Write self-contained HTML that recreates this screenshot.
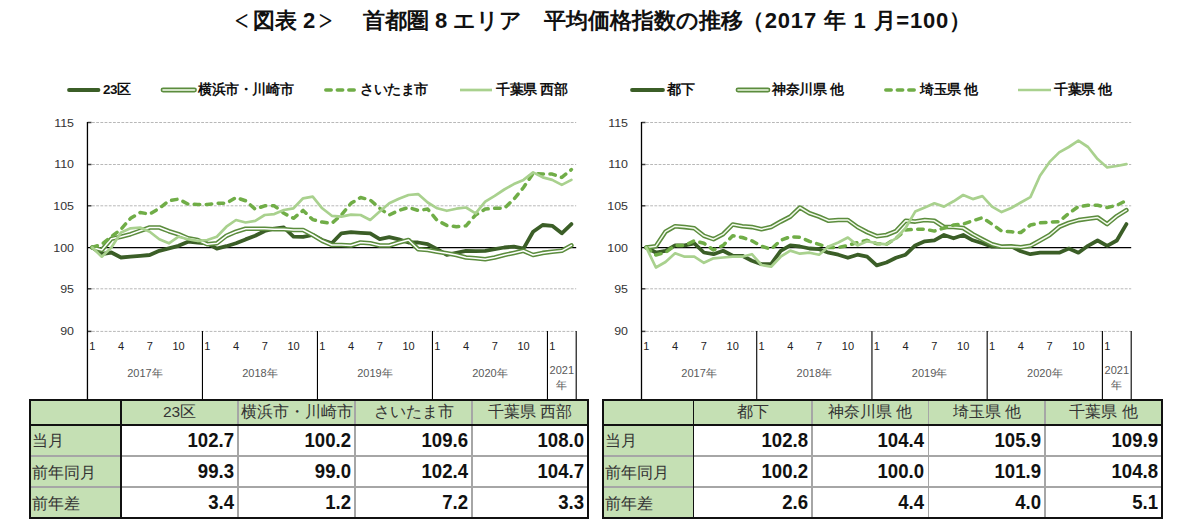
<!DOCTYPE html>
<html><head><meta charset="utf-8"><style>
html,body{margin:0;padding:0;background:#fff;width:1194px;height:523px;overflow:hidden;position:relative;font-family:"Liberation Sans",sans-serif}
.t{position:absolute;top:6px;font-size:22px;font-weight:bold;color:#111;white-space:nowrap}
.yl{position:absolute;width:40px;text-align:right;font-size:11px;line-height:14px;color:#333;transform:scaleX(1.13);transform-origin:100% 50%}
.ml{position:absolute;width:30px;text-align:center;font-size:11px;line-height:14px;color:#222}
.yr{position:absolute;width:80px;text-align:center;font-size:11px;line-height:14px;color:#595959}
.yr2{position:absolute;width:40px;text-align:center;font-size:11px;line-height:15px;color:#595959}
.lg{position:absolute;top:82px;letter-spacing:-0.4px;font-size:13.5px;line-height:16px;font-weight:bold;color:#111;white-space:nowrap}
svg{position:absolute;left:0;top:0}
.bx{position:absolute}
.br{display:inline-block;font-weight:normal;transform:scale(1.05,1.45);transform-origin:50% 60%}
.th{position:absolute;width:116px;text-align:center;font-size:15.5px;line-height:18px;color:#333;white-space:nowrap}
.tl{position:absolute;font-size:16px;line-height:18px;color:#333;white-space:nowrap}
.tn{position:absolute;width:100px;text-align:right;font-size:20px;line-height:23px;font-weight:bold;color:#111;transform:scaleX(0.93);transform-origin:100% 50%}
</style></head><body>
<div class="t" style="left:231px;letter-spacing:0px"><span class="br">＜</span>図表 2<span class="br">＞</span></div><div class="t" style="left:363px;letter-spacing:0px">首都圏 8 エリア</div><div class="t" style="left:544px">平均価格指数の推移</div><div class="t" style="left:742px;letter-spacing:0.8px">（2017 年 1 月=100）</div>
<svg width="1194" height="523" viewBox="0 0 1194 523">
<line x1="92.0" y1="122.5" x2="576.2" y2="122.5" stroke="#b8b8b8" stroke-width="1" stroke-dasharray="2.8 1.4"/>
<line x1="92.0" y1="164.5" x2="576.2" y2="164.5" stroke="#b8b8b8" stroke-width="1" stroke-dasharray="2.8 1.4"/>
<line x1="92.0" y1="205.8" x2="576.2" y2="205.8" stroke="#b8b8b8" stroke-width="1" stroke-dasharray="2.8 1.4"/>
<line x1="92.0" y1="288.8" x2="576.2" y2="288.8" stroke="#b8b8b8" stroke-width="1" stroke-dasharray="2.8 1.4"/>
<line x1="92.0" y1="331.4" x2="576.2" y2="331.4" stroke="#b8b8b8" stroke-width="1" stroke-dasharray="2.8 1.4"/>
<line x1="87.5" y1="122.5" x2="91.5" y2="122.5" stroke="#404040" stroke-width="1.5"/>
<line x1="87.5" y1="164.5" x2="91.5" y2="164.5" stroke="#404040" stroke-width="1.5"/>
<line x1="87.5" y1="205.8" x2="91.5" y2="205.8" stroke="#404040" stroke-width="1.5"/>
<line x1="87.5" y1="288.8" x2="91.5" y2="288.8" stroke="#404040" stroke-width="1.5"/>
<line x1="87.5" y1="331.4" x2="91.5" y2="331.4" stroke="#404040" stroke-width="1.5"/>
<line x1="87.5" y1="247.5" x2="576.2" y2="247.5" stroke="#000" stroke-width="1.25"/>
<line x1="87.45" y1="122" x2="87.45" y2="399" stroke="#000" stroke-width="1.3"/>
<line x1="202.45" y1="331" x2="202.45" y2="399" stroke="#000" stroke-width="1.1"/>
<line x1="317.45" y1="331" x2="317.45" y2="399" stroke="#000" stroke-width="1.1"/>
<line x1="432.45" y1="331" x2="432.45" y2="399" stroke="#000" stroke-width="1.1"/>
<line x1="547.45" y1="331" x2="547.45" y2="399" stroke="#000" stroke-width="1.1"/>
<line x1="576.20" y1="331" x2="576.20" y2="399" stroke="#000" stroke-width="1.1"/>
<polyline points="92.2,247.5 101.8,254.0 111.4,252.5 121.0,257.5 130.6,256.7 140.2,255.8 149.7,255.0 159.3,250.8 168.9,248.3 178.5,245.8 188.1,241.7 197.7,242.5 207.2,243.3 216.8,248.6 226.4,246.2 236.0,243.3 245.6,239.4 255.2,235.8 264.7,231.0 274.3,228.7 283.9,227.5 293.5,236.7 303.1,236.8 312.7,235.0 322.2,240.0 331.8,243.3 341.4,233.3 351.0,232.2 360.6,232.8 370.2,233.3 379.7,239.2 389.3,237.1 398.9,239.4 408.5,242.5 418.1,242.5 427.7,244.2 437.2,249.2 446.8,254.8 456.4,252.9 466.0,250.8 475.6,251.2 485.2,250.8 494.7,249.2 504.3,247.5 513.9,246.7 523.5,248.6 533.1,231.7 542.7,225.0 552.2,225.8 561.8,233.3 571.4,224.1" fill="none" stroke="#3b5e27" stroke-width="3.8" stroke-linejoin="round" stroke-linecap="round"/>
<polyline points="92.2,247.5 101.8,250.0 111.4,238.7 121.0,236.7 130.6,234.2 140.2,230.8 149.7,227.5 159.3,227.5 168.9,231.2 178.5,234.2 188.1,238.3 197.7,240.0 207.2,244.2 216.8,243.3 226.4,235.8 236.0,231.7 245.6,228.7 255.2,228.7 264.7,228.7 274.3,229.2 283.9,229.2 293.5,230.0 303.1,230.0 312.7,235.0 322.2,240.8 331.8,245.0 341.4,245.0 351.0,245.5 360.6,242.5 370.2,243.3 379.7,245.5 389.3,245.5 398.9,242.5 408.5,240.0 418.1,249.2 427.7,250.0 437.2,251.7 446.8,253.3 456.4,255.0 466.0,257.5 475.6,258.3 485.2,259.2 494.7,257.5 504.3,255.0 513.9,252.9 523.5,250.8 533.1,255.0 542.7,252.9 552.2,251.7 561.8,250.8 571.4,245.4" fill="none" stroke="#5b8c3d" stroke-width="4.6" stroke-linejoin="round" stroke-linecap="round"/>
<polyline points="92.2,247.5 101.8,250.0 111.4,238.7 121.0,236.7 130.6,234.2 140.2,230.8 149.7,227.5 159.3,227.5 168.9,231.2 178.5,234.2 188.1,238.3 197.7,240.0 207.2,244.2 216.8,243.3 226.4,235.8 236.0,231.7 245.6,228.7 255.2,228.7 264.7,228.7 274.3,229.2 283.9,229.2 293.5,230.0 303.1,230.0 312.7,235.0 322.2,240.8 331.8,245.0 341.4,245.0 351.0,245.5 360.6,242.5 370.2,243.3 379.7,245.5 389.3,245.5 398.9,242.5 408.5,240.0 418.1,249.2 427.7,250.0 437.2,251.7 446.8,253.3 456.4,255.0 466.0,257.5 475.6,258.3 485.2,259.2 494.7,257.5 504.3,255.0 513.9,252.9 523.5,250.8 533.1,255.0 542.7,252.9 552.2,251.7 561.8,250.8 571.4,245.4" fill="none" stroke="#ffffff" stroke-width="1.5" stroke-linejoin="round" stroke-linecap="round"/>
<polyline points="92.2,247.5 101.8,244.2 111.4,236.7 121.0,229.2 130.6,218.3 140.2,212.5 149.7,214.1 159.3,208.3 168.9,200.8 178.5,199.1 188.1,204.1 197.7,204.5 207.2,204.5 216.8,203.3 226.4,203.3 236.0,197.5 245.6,200.8 255.2,209.1 264.7,205.8 274.3,205.8 283.9,213.3 293.5,218.3 303.1,210.4 312.7,219.6 322.2,222.1 331.8,223.3 341.4,215.0 351.0,203.3 360.6,197.5 370.2,200.0 379.7,208.3 389.3,215.0 398.9,210.4 408.5,207.5 418.1,210.4 427.7,209.1 437.2,220.4 446.8,225.4 456.4,226.7 466.0,225.8 475.6,215.0 485.2,209.1 494.7,208.3 504.3,208.3 513.9,199.1 523.5,187.5 533.1,173.3 542.7,174.1 552.2,174.1 561.8,177.4 571.4,169.5" fill="none" stroke="#70ad47" stroke-width="3.5" stroke-linejoin="round" stroke-linecap="round" stroke-dasharray="5.5 6.5"/>
<polyline points="92.2,247.5 101.8,256.7 111.4,247.5 121.0,232.5 130.6,228.3 140.2,227.5 149.7,231.7 159.3,239.2 168.9,243.3 178.5,236.7 188.1,239.2 197.7,240.8 207.2,240.0 216.8,236.7 226.4,226.7 236.0,220.0 245.6,222.5 255.2,220.8 264.7,215.0 274.3,214.1 283.9,210.0 293.5,208.3 303.1,198.3 312.7,196.6 322.2,208.3 331.8,215.8 341.4,216.6 351.0,214.6 360.6,215.0 370.2,220.0 379.7,211.6 389.3,203.3 398.9,198.7 408.5,195.0 418.1,194.1 427.7,202.5 437.2,208.3 446.8,210.8 456.4,208.7 466.0,207.5 475.6,213.3 485.2,201.6 494.7,195.8 504.3,189.5 513.9,184.1 523.5,179.9 533.1,172.4 542.7,177.4 552.2,179.9 561.8,184.9 571.4,179.9" fill="none" stroke="#a9d18e" stroke-width="2.7" stroke-linejoin="round" stroke-linecap="round"/>
<line x1="646.0" y1="122.5" x2="1131.2" y2="122.5" stroke="#b8b8b8" stroke-width="1" stroke-dasharray="2.8 1.4"/>
<line x1="646.0" y1="164.5" x2="1131.2" y2="164.5" stroke="#b8b8b8" stroke-width="1" stroke-dasharray="2.8 1.4"/>
<line x1="646.0" y1="205.8" x2="1131.2" y2="205.8" stroke="#b8b8b8" stroke-width="1" stroke-dasharray="2.8 1.4"/>
<line x1="646.0" y1="288.8" x2="1131.2" y2="288.8" stroke="#b8b8b8" stroke-width="1" stroke-dasharray="2.8 1.4"/>
<line x1="646.0" y1="331.4" x2="1131.2" y2="331.4" stroke="#b8b8b8" stroke-width="1" stroke-dasharray="2.8 1.4"/>
<line x1="641.5" y1="122.5" x2="645.5" y2="122.5" stroke="#404040" stroke-width="1.5"/>
<line x1="641.5" y1="164.5" x2="645.5" y2="164.5" stroke="#404040" stroke-width="1.5"/>
<line x1="641.5" y1="205.8" x2="645.5" y2="205.8" stroke="#404040" stroke-width="1.5"/>
<line x1="641.5" y1="288.8" x2="645.5" y2="288.8" stroke="#404040" stroke-width="1.5"/>
<line x1="641.5" y1="331.4" x2="645.5" y2="331.4" stroke="#404040" stroke-width="1.5"/>
<line x1="641.5" y1="247.5" x2="1131.2" y2="247.5" stroke="#000" stroke-width="1.25"/>
<line x1="641.50" y1="122" x2="641.50" y2="399" stroke="#000" stroke-width="1.3"/>
<line x1="756.72" y1="331" x2="756.72" y2="399" stroke="#000" stroke-width="1.1"/>
<line x1="871.95" y1="331" x2="871.95" y2="399" stroke="#000" stroke-width="1.1"/>
<line x1="987.17" y1="331" x2="987.17" y2="399" stroke="#000" stroke-width="1.1"/>
<line x1="1102.39" y1="331" x2="1102.39" y2="399" stroke="#000" stroke-width="1.1"/>
<line x1="1131.20" y1="331" x2="1131.20" y2="399" stroke="#000" stroke-width="1.1"/>
<polyline points="646.3,247.5 655.9,252.5 665.5,250.8 675.1,245.4 684.7,245.4 694.3,243.3 703.9,252.5 713.5,254.2 723.1,250.8 732.7,255.8 742.3,255.8 751.9,260.8 761.5,264.2 771.1,264.2 780.7,250.8 790.3,245.4 799.9,246.5 809.5,248.5 819.1,249.2 828.7,252.7 838.3,254.7 847.9,257.8 857.5,254.7 867.1,256.7 876.7,265.4 886.4,262.5 896.0,257.8 905.6,254.7 915.2,245.4 924.8,241.3 934.4,240.3 944.0,235.0 953.6,238.3 963.2,235.0 972.8,240.3 982.4,243.3 992.0,246.7 1001.6,246.7 1011.2,246.4 1020.8,251.3 1030.4,254.2 1040.0,252.7 1049.6,252.7 1059.2,252.7 1068.8,248.6 1078.4,252.7 1088.0,245.8 1097.6,240.5 1107.2,245.8 1116.8,240.5 1126.4,224.1" fill="none" stroke="#3b5e27" stroke-width="3.8" stroke-linejoin="round" stroke-linecap="round"/>
<polyline points="646.3,247.5 655.9,246.2 665.5,231.7 675.1,226.2 684.7,227.1 694.3,228.3 703.9,235.8 713.5,239.2 723.1,234.2 732.7,224.5 742.3,226.2 751.9,227.1 761.5,229.2 771.1,227.1 780.7,221.6 790.3,216.6 799.9,207.5 809.5,213.3 819.1,216.6 828.7,220.8 838.3,220.0 847.9,220.0 857.5,227.0 867.1,232.1 876.7,236.2 886.4,235.0 896.0,231.1 905.6,220.8 915.2,221.6 924.8,220.0 934.4,220.8 944.0,227.0 953.6,227.0 963.2,228.0 972.8,234.2 982.4,239.3 992.0,244.2 1001.6,246.7 1011.2,246.4 1020.8,247.2 1030.4,245.8 1040.0,240.5 1049.6,235.0 1059.2,226.9 1068.8,222.9 1078.4,220.1 1088.0,218.8 1097.6,217.5 1107.2,224.1 1116.8,216.1 1126.4,210.1" fill="none" stroke="#5b8c3d" stroke-width="4.6" stroke-linejoin="round" stroke-linecap="round"/>
<polyline points="646.3,247.5 655.9,246.2 665.5,231.7 675.1,226.2 684.7,227.1 694.3,228.3 703.9,235.8 713.5,239.2 723.1,234.2 732.7,224.5 742.3,226.2 751.9,227.1 761.5,229.2 771.1,227.1 780.7,221.6 790.3,216.6 799.9,207.5 809.5,213.3 819.1,216.6 828.7,220.8 838.3,220.0 847.9,220.0 857.5,227.0 867.1,232.1 876.7,236.2 886.4,235.0 896.0,231.1 905.6,220.8 915.2,221.6 924.8,220.0 934.4,220.8 944.0,227.0 953.6,227.0 963.2,228.0 972.8,234.2 982.4,239.3 992.0,244.2 1001.6,246.7 1011.2,246.4 1020.8,247.2 1030.4,245.8 1040.0,240.5 1049.6,235.0 1059.2,226.9 1068.8,222.9 1078.4,220.1 1088.0,218.8 1097.6,217.5 1107.2,224.1 1116.8,216.1 1126.4,210.1" fill="none" stroke="#f3faec" stroke-width="1.5" stroke-linejoin="round" stroke-linecap="round"/>
<polyline points="646.3,247.5 655.9,255.0 665.5,252.5 675.1,245.4 684.7,245.4 694.3,240.8 703.9,243.3 713.5,250.0 723.1,245.4 732.7,235.8 742.3,237.5 751.9,240.8 761.5,246.2 771.1,249.2 780.7,240.3 790.3,236.7 799.9,237.2 809.5,241.3 819.1,244.4 828.7,247.5 838.3,247.5 847.9,245.4 857.5,242.5 867.1,240.3 876.7,243.7 886.4,244.2 896.0,238.3 905.6,230.0 915.2,229.2 924.8,229.2 934.4,231.1 944.0,228.0 953.6,225.0 963.2,224.1 972.8,220.8 982.4,217.7 992.0,224.1 1001.6,231.0 1011.2,231.8 1020.8,232.5 1030.4,225.0 1040.0,222.9 1049.6,222.1 1059.2,221.6 1068.8,213.3 1078.4,206.6 1088.0,205.3 1097.6,205.3 1107.2,207.5 1116.8,205.3 1126.4,200.4" fill="none" stroke="#70ad47" stroke-width="3.5" stroke-linejoin="round" stroke-linecap="round" stroke-dasharray="5.5 6.5"/>
<polyline points="646.3,247.5 655.9,267.5 665.5,262.0 675.1,253.3 684.7,256.7 694.3,256.7 703.9,262.8 713.5,258.3 723.1,257.5 732.7,256.7 742.3,256.7 751.9,254.2 761.5,265.0 771.1,266.7 780.7,256.7 790.3,250.6 799.9,253.7 809.5,252.7 819.1,254.7 828.7,246.5 838.3,242.5 847.9,237.5 857.5,245.4 867.1,241.3 876.7,243.3 886.4,244.4 896.0,238.3 905.6,228.0 915.2,211.6 924.8,207.5 934.4,203.3 944.0,206.6 953.6,201.3 963.2,195.0 972.8,199.1 982.4,196.1 992.0,206.6 1001.6,212.1 1011.2,208.0 1020.8,202.5 1030.4,197.1 1040.0,175.8 1049.6,161.9 1059.2,152.4 1068.8,147.0 1078.4,140.7 1088.0,147.0 1097.6,159.1 1107.2,167.4 1116.8,166.0 1126.4,164.1" fill="none" stroke="#a9d18e" stroke-width="2.7" stroke-linejoin="round" stroke-linecap="round"/>
<line x1="69" y1="90" x2="98.5" y2="90" stroke="#3b5e27" stroke-width="3.8" stroke-linecap="round"/>
<line x1="163.0" y1="90" x2="194.5" y2="90" stroke="#5b8c3d" stroke-width="4.8" stroke-linecap="round"/>
<line x1="163.0" y1="90" x2="194.5" y2="90" stroke="#fbfff5" stroke-width="1.6" stroke-linecap="round"/>
<line x1="325.8" y1="90" x2="354.7" y2="90" stroke="#70ad47" stroke-width="3.5" stroke-linecap="round" stroke-dasharray="5.4 6.1"/>
<line x1="460" y1="90" x2="492" y2="90" stroke="#a9d18e" stroke-width="2.7"/>
<line x1="632" y1="90" x2="663" y2="90" stroke="#3b5e27" stroke-width="3.8" stroke-linecap="round"/>
<line x1="738.0" y1="90" x2="768.0" y2="90" stroke="#5b8c3d" stroke-width="4.8" stroke-linecap="round"/>
<line x1="738.0" y1="90" x2="768.0" y2="90" stroke="#eef8e4" stroke-width="1.6" stroke-linecap="round"/>
<line x1="885.8" y1="90" x2="914.2" y2="90" stroke="#70ad47" stroke-width="3.5" stroke-linecap="round" stroke-dasharray="5.4 6.1"/>
<line x1="1018" y1="90" x2="1051" y2="90" stroke="#a9d18e" stroke-width="2.7"/>
</svg>
<div class="yl" style="left:33.5px;top:115.6px">115</div>
<div class="yl" style="left:33.5px;top:157.3px">110</div>
<div class="yl" style="left:33.5px;top:199.0px">105</div>
<div class="yl" style="left:33.5px;top:240.7px">100</div>
<div class="yl" style="left:33.5px;top:282.4px">95</div>
<div class="yl" style="left:33.5px;top:324.1px">90</div>
<div class="ml" style="left:77.2px;top:339px">1</div>
<div class="ml" style="left:106.0px;top:339px">4</div>
<div class="ml" style="left:134.7px;top:339px">7</div>
<div class="ml" style="left:163.5px;top:339px">10</div>
<div class="ml" style="left:192.2px;top:339px">1</div>
<div class="ml" style="left:221.0px;top:339px">4</div>
<div class="ml" style="left:249.7px;top:339px">7</div>
<div class="ml" style="left:278.5px;top:339px">10</div>
<div class="ml" style="left:307.2px;top:339px">1</div>
<div class="ml" style="left:336.0px;top:339px">4</div>
<div class="ml" style="left:364.7px;top:339px">7</div>
<div class="ml" style="left:393.5px;top:339px">10</div>
<div class="ml" style="left:422.2px;top:339px">1</div>
<div class="ml" style="left:451.0px;top:339px">4</div>
<div class="ml" style="left:479.7px;top:339px">7</div>
<div class="ml" style="left:508.5px;top:339px">10</div>
<div class="ml" style="left:537.2px;top:339px">1</div>
<div class="yr" style="left:104.9px;top:366px">2017年</div>
<div class="yr" style="left:219.9px;top:366px">2018年</div>
<div class="yr" style="left:334.9px;top:366px">2019年</div>
<div class="yr" style="left:449.9px;top:366px">2020年</div>
<div class="yr2" style="left:541.8px;top:363px">2021<br>年</div>
<div class="yl" style="left:587.5px;top:115.6px">115</div>
<div class="yl" style="left:587.5px;top:157.3px">110</div>
<div class="yl" style="left:587.5px;top:199.0px">105</div>
<div class="yl" style="left:587.5px;top:240.7px">100</div>
<div class="yl" style="left:587.5px;top:282.4px">95</div>
<div class="yl" style="left:587.5px;top:324.1px">90</div>
<div class="ml" style="left:631.3px;top:339px">1</div>
<div class="ml" style="left:660.1px;top:339px">4</div>
<div class="ml" style="left:688.9px;top:339px">7</div>
<div class="ml" style="left:717.7px;top:339px">10</div>
<div class="ml" style="left:746.5px;top:339px">1</div>
<div class="ml" style="left:775.3px;top:339px">4</div>
<div class="ml" style="left:804.1px;top:339px">7</div>
<div class="ml" style="left:832.9px;top:339px">10</div>
<div class="ml" style="left:861.7px;top:339px">1</div>
<div class="ml" style="left:890.6px;top:339px">4</div>
<div class="ml" style="left:919.4px;top:339px">7</div>
<div class="ml" style="left:948.2px;top:339px">10</div>
<div class="ml" style="left:977.0px;top:339px">1</div>
<div class="ml" style="left:1005.8px;top:339px">4</div>
<div class="ml" style="left:1034.6px;top:339px">7</div>
<div class="ml" style="left:1063.4px;top:339px">10</div>
<div class="ml" style="left:1092.2px;top:339px">1</div>
<div class="yr" style="left:659.1px;top:366px">2017年</div>
<div class="yr" style="left:774.3px;top:366px">2018年</div>
<div class="yr" style="left:889.6px;top:366px">2019年</div>
<div class="yr" style="left:1004.8px;top:366px">2020年</div>
<div class="yr2" style="left:1096.8px;top:363px">2021<br>年</div>
<div class="lg" style="left:103px">23区</div>
<div class="lg" style="left:198px">横浜市・川崎市</div>
<div class="lg" style="left:360px">さいたま市</div>
<div class="lg" style="left:496px">千葉県 西部</div>
<div class="lg" style="left:667px">都下</div>
<div class="lg" style="left:772px">神奈川県 他</div>
<div class="lg" style="left:920px">埼玉県 他</div>
<div class="lg" style="left:1054px">千葉県 他</div>
<div class="bx" style="left:29px;top:399px;width:560px;height:24.5px;background:#c5e0b4"></div>
<div class="bx" style="left:29px;top:423.5px;width:91px;height:93.5px;background:#c5e0b4"></div>
<div class="bx" style="left:29px;top:455.2px;width:560px;height:1.8px;background:#a6a6a6"></div>
<div class="bx" style="left:29px;top:486.2px;width:560px;height:1.8px;background:#a6a6a6"></div>
<div class="bx" style="left:237px;top:399px;width:1.8px;height:118px;background:#a6a6a6"></div>
<div class="bx" style="left:354px;top:399px;width:1.8px;height:118px;background:#a6a6a6"></div>
<div class="bx" style="left:471px;top:399px;width:1.8px;height:118px;background:#a6a6a6"></div>
<div class="bx" style="left:29px;top:399px;width:560px;height:1.6px;background:#111"></div>
<div class="bx" style="left:29px;top:423.5px;width:560px;height:2.5px;background:#111"></div>
<div class="bx" style="left:29px;top:517px;width:560px;height:1.5px;background:#111"></div>
<div class="bx" style="left:29px;top:399px;width:1.7px;height:119.5px;background:#111"></div>
<div class="bx" style="left:120px;top:399px;width:1.7px;height:119.5px;background:#111"></div>
<div class="bx" style="left:587px;top:399px;width:1.7px;height:119.5px;background:#111"></div>
<div class="th" style="left:121.5px;top:403px">23区</div>
<div class="th" style="left:238.5px;top:403px">横浜市・川崎市</div>
<div class="th" style="left:355.5px;top:403px">さいたま市</div>
<div class="th" style="left:472.0px;top:403px">千葉県 西部</div>
<div class="tl" style="left:32px;top:432.35px">当月</div>
<div class="tn" style="left:133.5px;top:428.85px">102.7</div>
<div class="tn" style="left:250.5px;top:428.85px">100.2</div>
<div class="tn" style="left:367.5px;top:428.85px">109.6</div>
<div class="tn" style="left:483.5px;top:428.85px">108.0</div>
<div class="tl" style="left:32px;top:463.7px">前年同月</div>
<div class="tn" style="left:133.5px;top:460.2px">99.3</div>
<div class="tn" style="left:250.5px;top:460.2px">99.0</div>
<div class="tn" style="left:367.5px;top:460.2px">102.4</div>
<div class="tn" style="left:483.5px;top:460.2px">104.7</div>
<div class="tl" style="left:32px;top:494.6px">前年差</div>
<div class="tn" style="left:133.5px;top:491.1px">3.4</div>
<div class="tn" style="left:250.5px;top:491.1px">1.2</div>
<div class="tn" style="left:367.5px;top:491.1px">7.2</div>
<div class="tn" style="left:483.5px;top:491.1px">3.3</div><div class="bx" style="left:602.2px;top:399px;width:560.8px;height:24.5px;background:#c5e0b4"></div>
<div class="bx" style="left:602.2px;top:423.5px;width:90.5px;height:93.5px;background:#c5e0b4"></div>
<div class="bx" style="left:602.2px;top:455.2px;width:560.8px;height:1.8px;background:#a6a6a6"></div>
<div class="bx" style="left:602.2px;top:486.2px;width:560.8px;height:1.8px;background:#a6a6a6"></div>
<div class="bx" style="left:811px;top:399px;width:1.8px;height:118px;background:#a6a6a6"></div>
<div class="bx" style="left:927.5px;top:399px;width:1.8px;height:118px;background:#a6a6a6"></div>
<div class="bx" style="left:1044px;top:399px;width:1.8px;height:118px;background:#a6a6a6"></div>
<div class="bx" style="left:602.2px;top:399px;width:560.8px;height:1.6px;background:#111"></div>
<div class="bx" style="left:602.2px;top:423.5px;width:560.8px;height:2px;background:#111"></div>
<div class="bx" style="left:602.2px;top:517px;width:560.8px;height:1.5px;background:#111"></div>
<div class="bx" style="left:602.2px;top:399px;width:1.7px;height:119.5px;background:#111"></div>
<div class="bx" style="left:692.7px;top:399px;width:1.7px;height:119.5px;background:#111"></div>
<div class="bx" style="left:1161px;top:399px;width:1.7px;height:119.5px;background:#111"></div>
<div class="th" style="left:694.85px;top:403px">都下</div>
<div class="th" style="left:812.25px;top:403px">神奈川県 他</div>
<div class="th" style="left:928.75px;top:403px">埼玉県 他</div>
<div class="th" style="left:1045.5px;top:403px">千葉県 他</div>
<div class="tl" style="left:605.2px;top:432.35px">当月</div>
<div class="tn" style="left:707.5px;top:428.85px">102.8</div>
<div class="tn" style="left:824.0px;top:428.85px">104.4</div>
<div class="tn" style="left:940.5px;top:428.85px">105.9</div>
<div class="tn" style="left:1057.5px;top:428.85px">109.9</div>
<div class="tl" style="left:605.2px;top:463.7px">前年同月</div>
<div class="tn" style="left:707.5px;top:460.2px">100.2</div>
<div class="tn" style="left:824.0px;top:460.2px">100.0</div>
<div class="tn" style="left:940.5px;top:460.2px">101.9</div>
<div class="tn" style="left:1057.5px;top:460.2px">104.8</div>
<div class="tl" style="left:605.2px;top:494.6px">前年差</div>
<div class="tn" style="left:707.5px;top:491.1px">2.6</div>
<div class="tn" style="left:824.0px;top:491.1px">4.4</div>
<div class="tn" style="left:940.5px;top:491.1px">4.0</div>
<div class="tn" style="left:1057.5px;top:491.1px">5.1</div>
</body></html>
